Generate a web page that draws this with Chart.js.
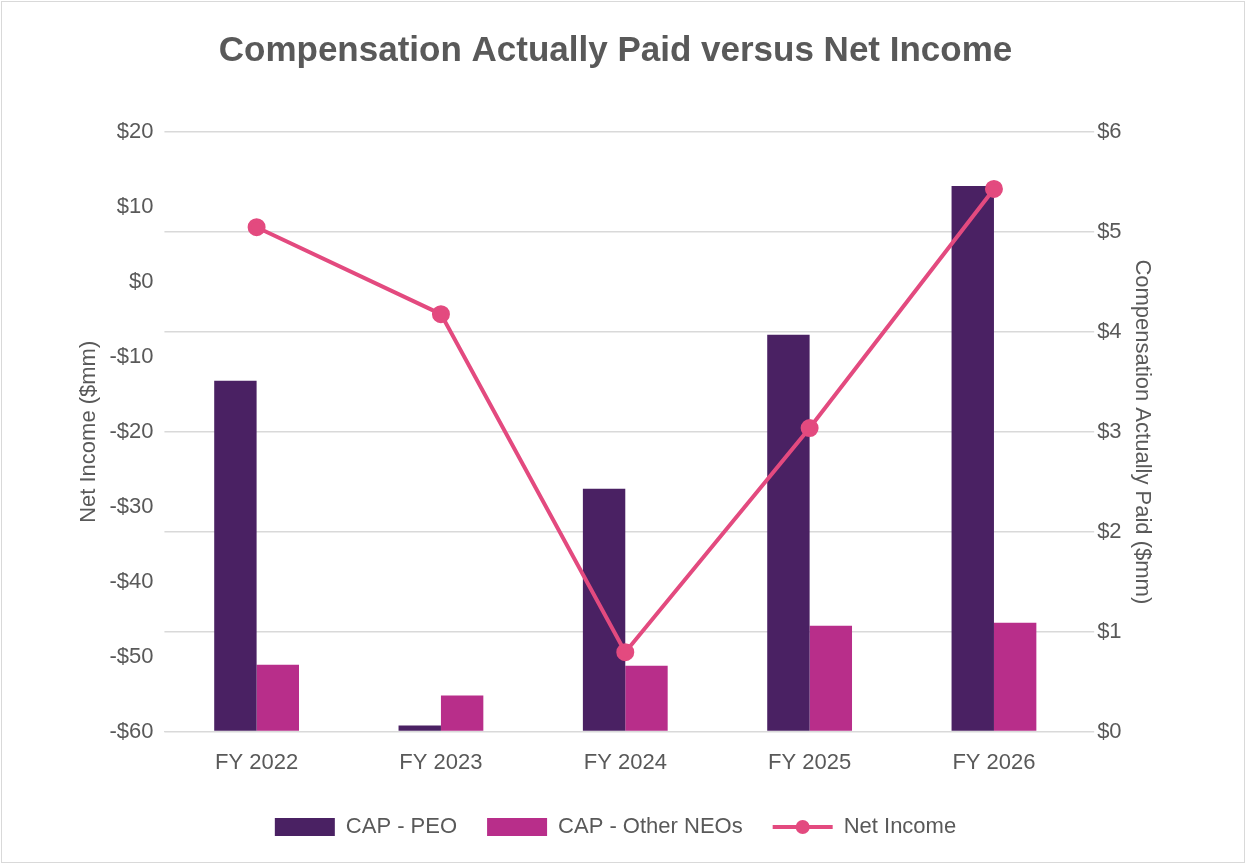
<!DOCTYPE html>
<html><head><meta charset="utf-8">
<script src="https://cdn.jsdelivr.net/npm/chart.js@4"></script>
<style>html,body{margin:0;background:#fff}#w{position:absolute;left:1px;top:1px;width:1244px;height:862px;border:1px solid #d9d9d9;box-sizing:border-box}</style>
</head><body><div id="w"><canvas id="c"></canvas></div>
<script>
const categories=["FY 2022","FY 2023","FY 2024","FY 2025","FY 2026"];
const capPeo=[3.51,0.06,2.43,3.97,5.46];
const capNeo=[0.67,0.36,0.66,1.06,1.09];
const netIncome=[7.3,-4.3,-49.4,-19.5,12.4];
Chart.defaults.font.family="Liberation Sans, Arial, sans-serif";
Chart.defaults.color="#595959";
const lineLegend={id:'lineLegend',afterDraw(ch){const lg=ch.legend;if(!lg||!lg.legendHitBoxes)return;const b=lg.legendHitBoxes[2];const ctx=ch.ctx;const y=b.top+b.height/2;ctx.save();ctx.strokeStyle='#e34a7f';ctx.lineWidth=4;ctx.beginPath();ctx.moveTo(b.left,y);ctx.lineTo(b.left+60,y);ctx.stroke();ctx.fillStyle='#e34a7f';ctx.beginPath();ctx.arc(b.left+30,y,7,0,Math.PI*2);ctx.fill();ctx.restore();}};
new Chart(document.getElementById('c'),{
plugins:[lineLegend],
data:{labels:categories,datasets:[
{type:'line',label:'Net Income',data:netIncome,yAxisID:'yL',borderColor:'#e34a7f',backgroundColor:'#e34a7f',borderWidth:4,pointRadius:7,pointHoverRadius:7,order:0},
{type:'bar',label:'CAP - PEO',data:capPeo,yAxisID:'yR',backgroundColor:'#4a2163',categoryPercentage:0.46,barPercentage:1,order:1},
{type:'bar',label:'CAP - Other NEOs',data:capNeo,yAxisID:'yR',backgroundColor:'#b82e8a',categoryPercentage:0.46,barPercentage:1,order:1}
]},
options:{responsive:true,maintainAspectRatio:false,animation:false,
layout:{padding:{left:70,right:85,top:18,bottom:14}},
plugins:{title:{display:true,text:'Compensation Actually Paid versus Net Income',font:{size:35,weight:'bold'},color:'#595959',padding:{top:10,bottom:60}},
legend:{position:'bottom',labels:{font:{size:22},color:'#595959',boxWidth:60,boxHeight:18,padding:30,
generateLabels:(ch)=>{const d=ch.data.datasets;return [1,2,0].map(i=>({text:d[i].label,fillStyle:i==0?'rgba(0,0,0,0)':d[i].backgroundColor,strokeStyle:'rgba(0,0,0,0)',lineWidth:0,datasetIndex:i,fontColor:'#595959'}));}}},
tooltip:{enabled:false}},
scales:{
x:{grid:{display:false},border:{color:'#d9d9d9'},ticks:{font:{size:22},color:'#595959',padding:10}},
yL:{position:'left',min:-60,max:20,ticks:{stepSize:10,font:{size:22},color:'#595959',callback:v=>(v<0?'-$'+(-v):'$'+v)},grid:{display:false},border:{display:false},title:{display:true,text:'Net Income ($mm)',font:{size:22},color:'#595959'}},
yR:{position:'right',min:0,max:6,ticks:{stepSize:1,font:{size:22},color:'#595959',callback:v=>'$'+v},grid:{color:'#d9d9d9',lineWidth:1.5},border:{display:false},title:{display:true,text:'Compensation Actually Paid ($mm)',font:{size:22},color:'#595959'}}
}}});
</script></body></html>
